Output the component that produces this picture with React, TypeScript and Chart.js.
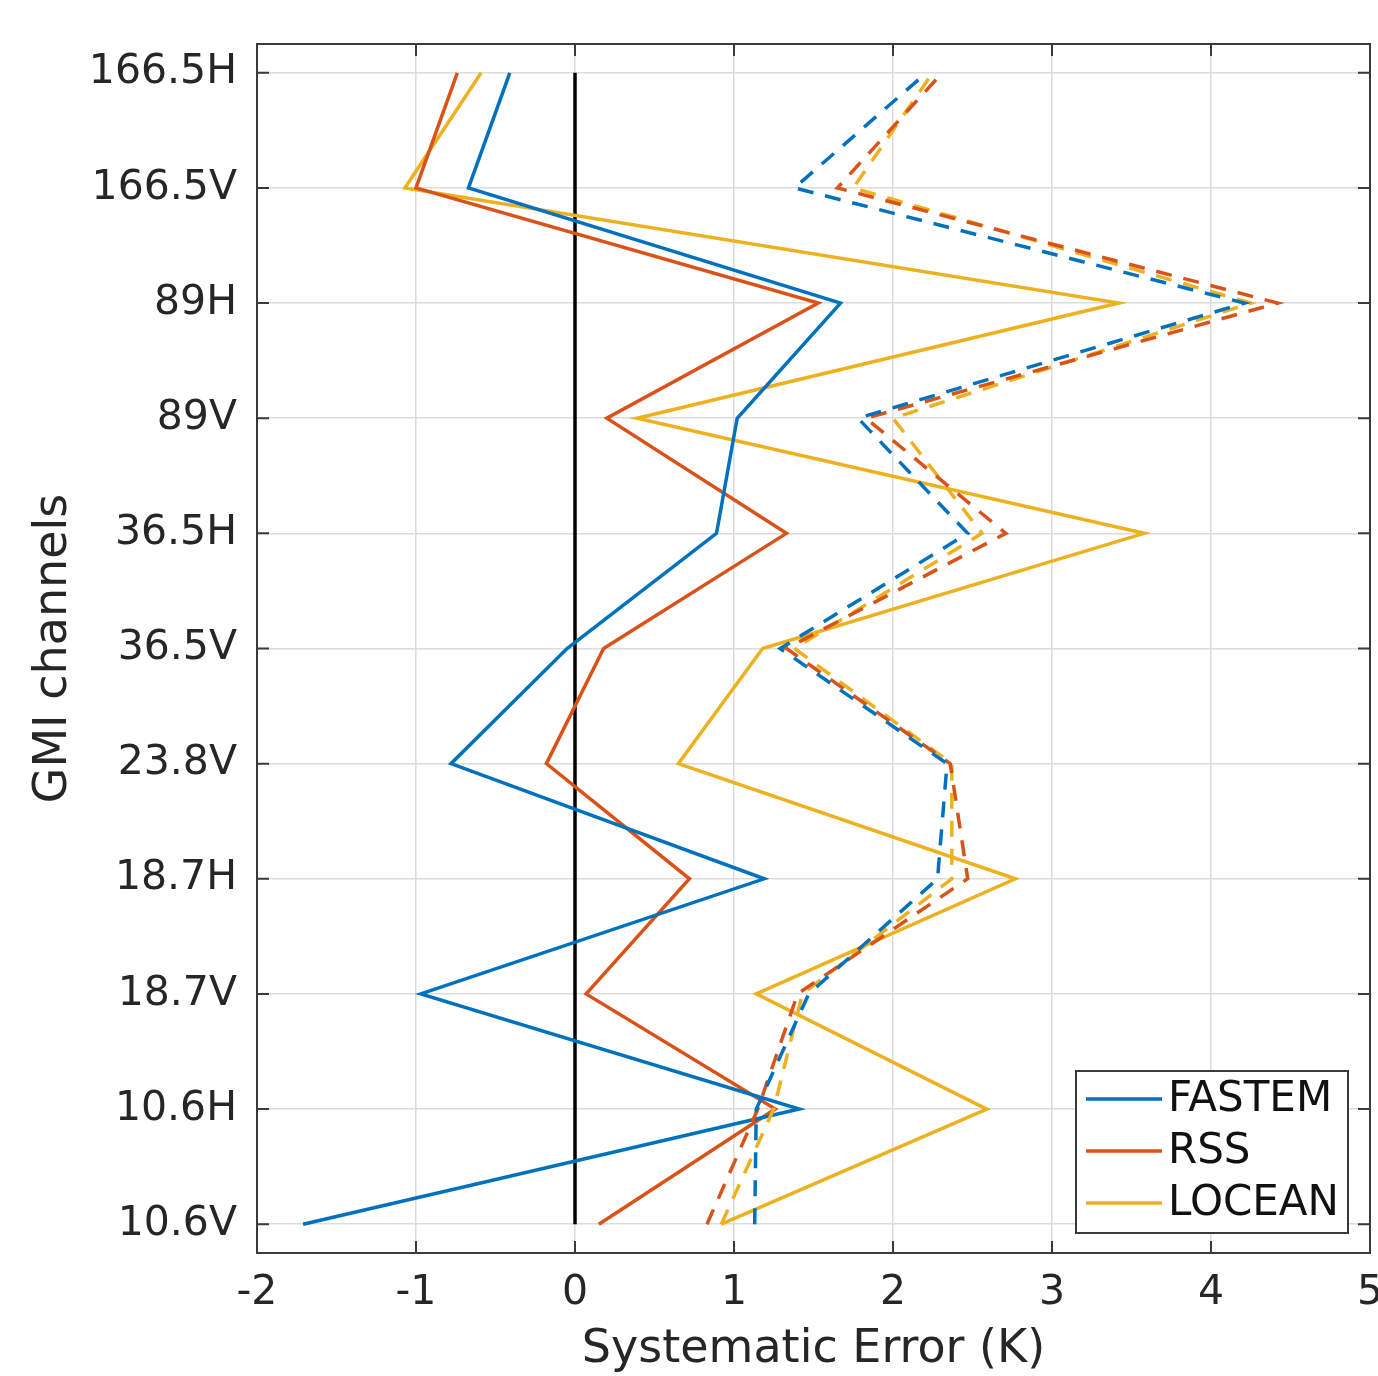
import React, { useEffect, useRef } from 'react';
import { Chart, registerables } from 'chart.js';

Chart.register(...registerables);

// GMI channels, bottom to top
const channels = ["10.6V", "10.6H", "18.7V", "18.7H", "23.8V", "36.5V", "36.5H", "89V", "89H", "166.5V", "166.5H"];
const xTickValues = [-2, -1, 0, 1, 2, 3, 4, 5];

const seriesNames = ["FASTEM", "RSS", "LOCEAN"];
const seriesColors = ["#0072BD", "#D95319", "#EDB120"];

// solid lines
const fastemSolid = [-1.71, 1.41, -0.97, 1.19, -0.78, -0.05, 0.89, 1.02, 1.67, -0.67, -0.41];
const rssSolid = [0.15, 1.26, 0.07, 0.72, -0.18, 0.18, 1.33, 0.20, 1.53, -1.00, -0.74];
const loceanSolid = [0.92, 2.59, 1.14, 2.77, 0.65, 1.18, 3.58, 0.39, 3.42, -1.07, -0.59];

// dashed lines
const fastemDashed = [1.13, 1.14, 1.47, 2.28, 2.34, 1.29, 2.47, 1.78, 4.21, 1.38, 2.21];
const rssDashed = [0.83, 1.15, 1.40, 2.47, 2.36, 1.33, 2.71, 1.83, 4.42, 1.65, 2.31];
const loceanDashed = [0.92, 1.25, 1.43, 2.37, 2.37, 1.38, 2.56, 2.00, 4.25, 1.75, 2.25];

// zero reference line
const zeroLineX = [0, 0];
const zeroLineY = [0, 10];

const FONT = "'DejaVu Sans', 'Liberation Sans', sans-serif";
const AXIS_COLOR = '#262626';
const GRID_COLOR = '#dcdcdc';

const toPoints = (vals: number[]) => vals.map((v, i) => ({ x: v, y: i }));

const framePlugin = {
  id: 'frameAndLegend',
  afterDraw(chart: any) {
    const { ctx, chartArea: a, scales } = chart;
    const xs = scales.x;
    const ys = scales.y;
    ctx.save();
    // box
    ctx.strokeStyle = '#3a3a3a';
    ctx.lineWidth = 2;
    ctx.strokeRect(a.left, a.top, a.right - a.left, a.bottom - a.top);
    // inward ticks on all sides
    const tl = 12;
    ctx.beginPath();
    xs.ticks.forEach((t: any) => {
      const px = xs.getPixelForValue(t.value);
      ctx.moveTo(px, a.bottom);
      ctx.lineTo(px, a.bottom - tl);
      ctx.moveTo(px, a.top);
      ctx.lineTo(px, a.top + tl);
    });
    ys.ticks.forEach((t: any) => {
      const py = ys.getPixelForValue(t.value);
      ctx.moveTo(a.left, py);
      ctx.lineTo(a.left + tl, py);
      ctx.moveTo(a.right, py);
      ctx.lineTo(a.right - tl, py);
    });
    ctx.stroke();

    // legend box (inside bottom-right)
    const bw = 272;
    const bh = 162;
    const bx = a.right - 22 - bw;
    const by = a.bottom - 20 - bh;
    ctx.fillStyle = '#ffffff';
    ctx.fillRect(bx, by, bw, bh);
    ctx.strokeStyle = '#3a3a3a';
    ctx.lineWidth = 2;
    ctx.strokeRect(bx, by, bw, bh);
    ctx.font = `42px ${FONT}`;
    ctx.textBaseline = 'middle';
    ctx.textAlign = 'left';
    seriesNames.forEach((name, i) => {
      const yy = by + 28 + i * 52;
      ctx.strokeStyle = seriesColors[i];
      ctx.lineWidth = 3.5;
      ctx.setLineDash([]);
      ctx.beginPath();
      ctx.moveTo(bx + 10, yy);
      ctx.lineTo(bx + 86, yy);
      ctx.stroke();
      ctx.fillStyle = '#111111';
      ctx.fillText(name, bx + 92, yy + 1);
    });
    ctx.restore();
  },
};

export default function App() {
  const canvasRef = useRef<HTMLCanvasElement | null>(null);

  useEffect(() => {
    const canvas = canvasRef.current;
    if (!canvas) return;
    const solids = [fastemSolid, rssSolid, loceanSolid];
    const dashes = [fastemDashed, rssDashed, loceanDashed];
    const datasets: any[] = [];
    dashes.forEach((vals, i) => {
      datasets.push({
        label: seriesNames[i] + ' (dashed)',
        data: toPoints(vals),
        borderColor: seriesColors[i],
        borderWidth: 3.5,
        borderDash: [16, 12],
        borderCapStyle: 'butt',
        pointRadius: 0,
        tension: 0,
        fill: false,
      });
    });
    solids.forEach((vals, i) => {
      datasets.push({
        label: seriesNames[i],
        data: toPoints(vals),
        borderColor: seriesColors[i],
        borderWidth: 3.5,
        pointRadius: 0,
        tension: 0,
        fill: false,
      });
    });
    datasets.push({
      label: 'zero',
      data: zeroLineX.map((x, i) => ({ x, y: zeroLineY[i] })),
      borderColor: '#000000',
      borderWidth: 3.5,
      pointRadius: 0,
      fill: false,
    });

    const chart = new Chart(canvas, {
      type: 'line',
      data: { datasets },
      options: {
        responsive: false,
        animation: false,
        layout: { padding: { left: 0, right: 8, top: 44, bottom: 0 } },
        plugins: {
          legend: { display: false },
          tooltip: { enabled: false },
        },
        scales: {
          x: {
            type: 'linear',
            position: 'bottom',
            min: -2,
            max: 5,
            afterBuildTicks: (s: any) => {
              s.ticks = xTickValues.map((v) => ({ value: v }));
            },
            ticks: {
              font: { family: FONT, size: 41 },
              color: AXIS_COLOR,
              padding: 16,
              maxRotation: 0,
              autoSkip: false,
              callback: (v: any) => String(v),
            },
            grid: { color: GRID_COLOR, lineWidth: 1.5, drawTicks: false },
            border: { display: false },
            title: {
              display: true,
              text: 'Systematic Error (K)',
              color: AXIS_COLOR,
              font: { family: FONT, size: 46, lineHeight: 1 },
              padding: { top: 0, bottom: 3 },
            },
            afterFit: (s: any) => {
              s.height = 123;
              s.paddingLeft = 0;
              s.paddingRight = 0;
            },
          },
          y: {
            type: 'linear',
            position: 'left',
            min: -0.25,
            max: 10.25,
            afterBuildTicks: (s: any) => {
              s.ticks = channels.map((_, i) => ({ value: i }));
            },
            ticks: {
              font: { family: FONT, size: 41 },
              color: AXIS_COLOR,
              padding: 20,
              autoSkip: false,
              callback: (v: any) => channels[Math.round(Number(v))] ?? '',
            },
            grid: { color: GRID_COLOR, lineWidth: 1.5, drawTicks: false },
            border: { display: false },
            title: {
              display: true,
              text: 'GMI channels',
              color: AXIS_COLOR,
              font: { family: FONT, size: 46, lineHeight: 1 },
              padding: { top: 31, bottom: 0 },
            },
            afterFit: (s: any) => {
              s.width = 257;
              s.paddingTop = 0;
              s.paddingBottom = 0;
            },
          },
        },
      },
      plugins: [framePlugin],
    });
    return () => chart.destroy();
  }, []);

  return (
    <div style={{ position: 'absolute', left: 0, top: 0, width: 1378, height: 1376, background: '#ffffff' }}>
      <canvas ref={canvasRef} width={1378} height={1376} style={{ display: 'block' }} />
    </div>
  );
}
